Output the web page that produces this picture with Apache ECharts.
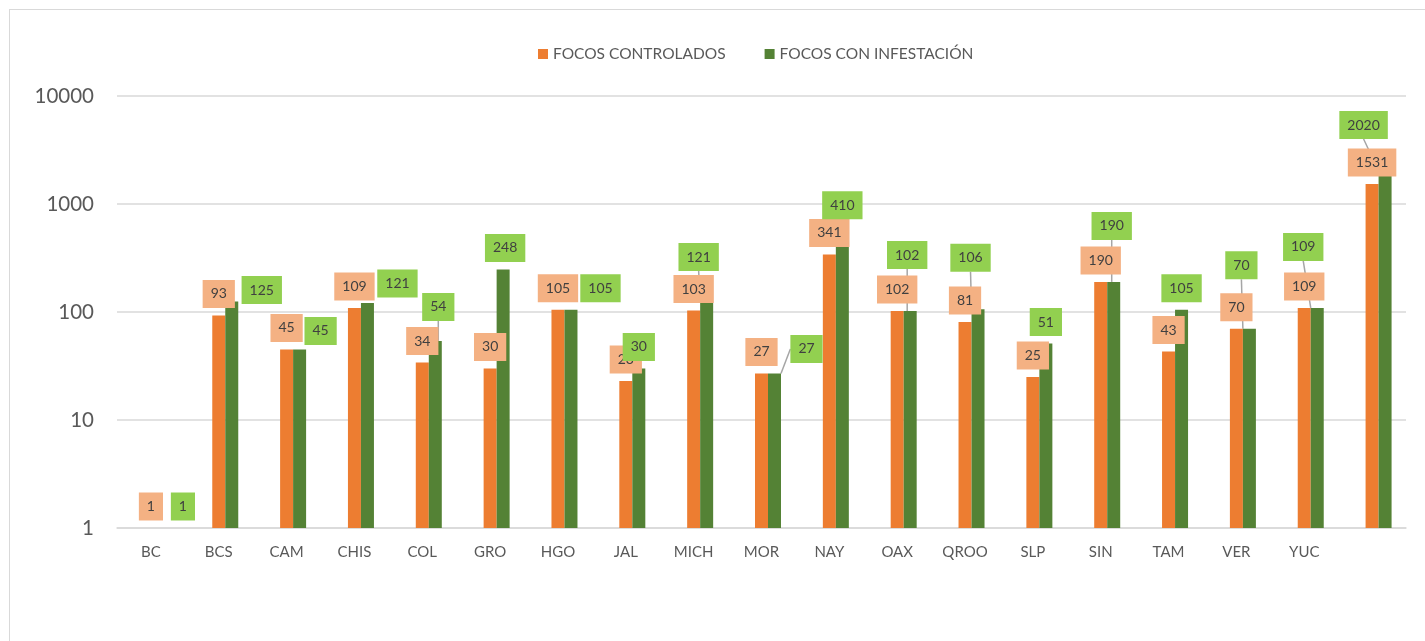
<!DOCTYPE html>
<html lang="es">
<head>
<meta charset="UTF-8">
<title>Focos controlados y con infestación</title>
<style>
    * { margin: 0; padding: 0; }
    body { background: #fff; }
    .frame {
        position: absolute;
        left: 9px;
        top: 9px;
        width: 1420px;
        height: 640px;
        border: 1px solid #d9d9d9;
        box-sizing: border-box;
    }
    #chart {
        position: absolute;
        left: 0;
        top: 0;
        width: 1425px;
        height: 641px;
    }
</style>
</head>
<body>
<div class="frame"></div>
<div id="chart"></div>
<script src="https://cdn.jsdelivr.net/npm/echarts@6/dist/echarts.min.js"></script>
<script>
var estados = ['BC', 'BCS', 'CAM', 'CHIS', 'COL', 'GRO', 'HGO', 'JAL', 'MICH', 'MOR', 'NAY', 'OAX', 'QROO', 'SLP', 'SIN', 'TAM', 'VER', 'YUC', ''];
var controlados = [1, 93, 45, 109, 34, 30, 105, 23, 103, 27, 341, 102, 81, 25, 190, 43, 70, 109, 1531];
var infestacion = [1, 125, 45, 121, 54, 248, 105, 30, 121, 27, 410, 102, 106, 51, 190, 105, 70, 109, 2020];
var yTicks = [1, 10, 100, 1000, 10000];

// posición de las etiquetas verdes: [dx, dy] en px respecto a la posición 'top'
var shiftVerde = [[19, 0], [30, 10], [21, 3], [30, 2], [3, -12.5], [2, 0], [29.5, 0], [0, 0], [-8, -24.5], [32, -3],
    [0, -19], [-3, -34.5], [-7.5, -30], [0, 0], [-2, -34.5], [0, 0], [-8, -42], [-14, -39.5], [-21.5, -24.5]];
var conLinea = [4, 8, 9, 10, 11, 12, 14, 16, 17, 18]; // etiquetas con línea guía

var FONT = 'Lato';
var TOP_OFF = 21.5; // centro de la etiqueta sobre la barra

var chart = echarts.init(document.getElementById('chart'));

var labelBase = {
    show: true,
    fontFamily: FONT,
    fontSize: 14,
    lineHeight: 16,
    color: '#404040',
    padding: [6, 8]
};

var datosVerde = infestacion.map(function (v, i) {
    return { value: v, labelLine: { show: conLinea.indexOf(i) >= 0 } };
});

var option = {
    animation: false,
    textStyle: { fontFamily: FONT },
    legend: {
        data: ['FOCOS CONTROLADOS', 'FOCOS CON INFESTACIÓN'],
        left: 533,
        top: 41,
        itemWidth: 10,
        itemHeight: 10,
        itemGap: 39,
        icon: 'rect',
        textStyle: { fontFamily: FONT, fontSize: 15.5, color: '#595959' }
    },
    grid: { left: 117, right: 19, top: 96, bottom: 113 },
    xAxis: {
        type: 'category',
        data: estados,
        axisTick: { show: false },
        axisLine: { lineStyle: { color: '#d9d9d9', width: 1.5 } },
        axisLabel: { fontFamily: FONT, fontSize: 15, color: '#595959', margin: 17, interval: 0 }
    },
    yAxis: {
        type: 'log',
        logBase: 10,
        min: yTicks[0],
        max: yTicks[yTicks.length - 1],
        axisLine: { show: false },
        axisTick: { show: false },
        splitLine: { lineStyle: { color: '#d9d9d9', width: 1.5 } },
        axisLabel: {
            fontFamily: FONT, fontSize: 20.5, color: '#595959', margin: 23,
            formatter: function (v) { return String(Math.round(v)); }
        }
    },
    series: [
        {
            // serie vacía, desplaza las barras como en el original
            type: 'bar',
            name: '',
            data: estados.map(function () { return null; }),
            barWidth: 13,
            barGap: '0%'
        },
        {
            type: 'bar',
            name: 'FOCOS CONTROLADOS',
            data: controlados,
            barWidth: 13,
            barGap: '0%',
            itemStyle: { color: '#ed7d31' },
            label: Object.assign({}, labelBase, {
                position: 'top',
                distance: 7.5,
                backgroundColor: '#f4b183'
            })
        },
        {
            type: 'bar',
            name: 'FOCOS CON INFESTACIÓN',
            data: datosVerde,
            barWidth: 13,
            barGap: '0%',
            itemStyle: { color: '#548235' },
            label: Object.assign({}, labelBase, {
                position: 'top',
                distance: 7.5,
                backgroundColor: '#92d050'
            }),
            labelLine: {
                show: true,
                lineStyle: { color: '#a6a6a6', width: 1.5 }
            },
            labelLayout: function (p) {
                var s = shiftVerde[p.dataIndex];
                var r = p.rect;
                var cx = r.x + r.width / 2;
                var x = cx + s[0];
                var y = r.y - TOP_OFF + s[1];
                var out = { x: x, y: y, align: 'center', verticalAlign: 'middle' };
                if (conLinea.indexOf(p.dataIndex) >= 0) {
                    var w = p.labelRect.width / 2;
                    var h = p.labelRect.height / 2;
                    var start, mid;
                    if (Math.abs(s[0]) > w) {
                        var sg = s[0] > 0 ? 1 : -1;
                        start = [x - w * sg, y];
                        mid = [cx + 4 * sg, y];
                    } else {
                        start = [x, y + h];
                        mid = [(x + cx) / 2, (y + h + r.y) / 2];
                    }
                    out.labelLinePoints = [start, mid, [cx, r.y]];
                }
                return out;
            }
        }
    ]
};

chart.setOption(option);
</script>
</body>
</html>
